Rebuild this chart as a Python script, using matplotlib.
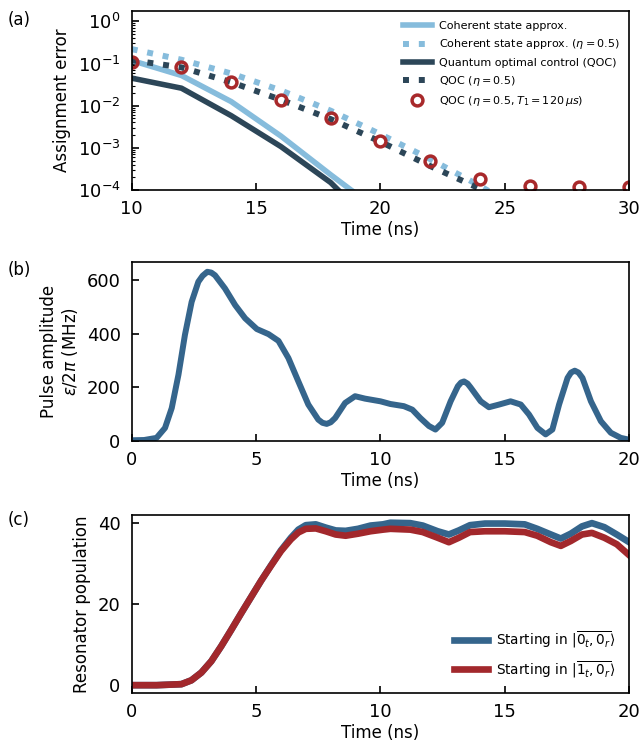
import matplotlib
matplotlib.use('Agg')
import matplotlib.pyplot as plt

# ---------------- Panel (a) data ----------------
t_a = [10, 12, 14, 16, 18, 20, 22, 24, 26, 28, 30]
t_coh = [10, 12, 14, 16, 18, 20]
err_coh = [0.118, 0.052, 0.0125, 1.9e-3, 2.3e-4, 3.0e-5]
t_coh_eta = [10, 12, 14, 16, 18, 20, 22, 24, 26]
err_coh_eta = [0.22, 0.123, 0.058, 0.023, 7.6e-3, 2.1e-3, 5.4e-4, 1.25e-4, 2.5e-5]
t_qoc = [10, 12, 14, 16, 18, 20]
err_qoc = [0.045, 0.026, 5.8e-3, 1.07e-3, 1.5e-4, 1.0e-5]
t_qoc_eta = [10, 12, 14, 16, 18, 20, 22, 24, 26]
err_qoc_eta = [0.12, 0.081, 0.036, 0.0138, 4.8e-3, 1.4e-3, 3.7e-4, 1.07e-4, 1.0e-5]
err_qoc_t1 = [0.11, 0.082, 0.037, 0.0139, 5.1e-3, 1.47e-3, 4.9e-4, 1.86e-4, 1.25e-4, 1.15e-4, 1.18e-4]

labels_a = ['Coherent state approx.',
            r'Coherent state approx. ($\eta = 0.5$)',
            'Quantum optimal control (QOC)',
            r'QOC ($\eta = 0.5$)',
            r'QOC ($\eta = 0.5, T_1 = 120\,\mu s$)']

# ---------------- Panel (b) data ----------------
t_b = [0, 0.5, 1.0, 1.34, 1.61, 1.88, 2.14, 2.41, 2.68, 2.85, 3.04, 3.2, 3.35, 3.75,
       4.16, 4.56, 5.03, 5.5, 5.9, 6.3, 6.7, 7.1, 7.5, 7.67, 7.84, 8.0, 8.18, 8.58,
       8.98, 9.38, 10.0, 10.4, 10.94, 11.28, 11.6, 11.95, 12.21, 12.48, 12.82, 13.11,
       13.24, 13.36, 13.5, 13.62, 14.03, 14.36, 14.77, 15.23, 15.64, 15.97, 16.31,
       16.64, 16.91, 17.18, 17.52, 17.66, 17.81, 17.96, 18.12, 18.46, 18.86, 19.26,
       19.66, 20.0]
amp_b = [3, 4, 12, 49, 123, 247, 395, 518, 593, 615, 630, 627, 617, 568,
         506, 457, 417, 398, 373, 309, 222, 136, 80, 68, 64, 70, 86, 142,
         167, 158, 148, 138, 130, 117, 86, 56, 43, 68, 148, 204,
         218, 222, 214, 200, 148, 126, 136, 148, 136, 99, 49,
         25, 43, 136, 235, 255, 262, 255, 235, 148, 74, 31,
         12, 5]

# ---------------- Panel (c) data ----------------
t_c = [0, 1, 2.0, 2.4, 2.8, 3.2, 3.6, 4.0, 4.4, 4.8, 5.2, 5.6, 6.0, 6.4, 6.7, 7.0,
       7.4, 7.8, 8.2, 8.6, 9.1, 9.6, 10.1, 10.4, 11.2, 11.7, 12.3, 12.75, 13.15,
       13.6, 14.2, 15.0, 15.8, 16.3, 16.85, 17.25, 17.65, 18.1, 18.5, 19.0, 19.5, 20.0]
pop_0 = [0, 0, 0.25, 1.2, 3.1, 5.9, 9.6, 13.6, 17.7, 21.7, 25.7, 29.5, 33.2, 36.3,
         38.3, 39.4, 39.6, 38.8, 38.1, 38.0, 38.5, 39.3, 39.6, 40.0, 39.9, 39.3, 37.9,
         37.1, 38.1, 39.4, 39.8, 39.8, 39.6, 38.5, 37.1, 36.1, 37.3, 39.1, 39.9, 38.9,
         37.1, 35.2]
pop_1 = [0, 0, 0.25, 1.2, 3.1, 5.9, 9.6, 13.6, 17.7, 21.7, 25.7, 29.4, 33.0, 35.9,
         37.6, 38.5, 38.6, 37.9, 37.1, 36.8, 37.3, 37.9, 38.3, 38.5, 38.3, 37.7, 36.3,
         35.2, 36.3, 37.7, 37.9, 37.9, 37.7, 36.8, 35.2, 34.3, 35.5, 37.1, 37.5, 36.3,
         34.7, 32.0]
labels_c = [r'Starting in $|\overline{0_t, 0_r}\rangle$',
            r'Starting in $|\overline{1_t, 0_r}\rangle$']

# ---------------- Style ----------------
plt.rcParams.update({
    'font.family': ['DejaVu Sans'],
    'font.size': 12,
    'mathtext.fontset': 'dejavusans',
    'axes.linewidth': 1.2,
    'axes.labelpad': 5,
    'xtick.labelsize': 13, 'ytick.labelsize': 13,
    'xtick.direction': 'in', 'ytick.direction': 'in',
    'xtick.major.size': 5, 'ytick.major.size': 5,
    'xtick.minor.size': 2.5, 'ytick.minor.size': 2.5,
    'xtick.major.width': 1.2, 'ytick.major.width': 1.2,
    'xtick.minor.width': 0.8, 'ytick.minor.width': 0.8,
    'xtick.major.pad': 7, 'ytick.major.pad': 8,
    'xtick.minor.pad': 7, 'ytick.minor.pad': 8,
})

c_light = '#86bcdc'
c_dark = '#2c4658'
c_red = '#a8292b'
c_blue = '#35658c'
c_red2 = '#a2282c'

fig = plt.figure(figsize=(6.43, 7.54), dpi=100)
L, W, H = 0.2048, 0.7738, 0.2370
ax1 = fig.add_axes([L, 0.7480, W, H])
ax2 = fig.add_axes([L, 0.4150, W, H])
ax3 = fig.add_axes([L, 0.0805, W, H])

# Panel (a)
ax1.plot(t_coh, err_coh, color=c_light, lw=4, label=labels_a[0])
ax1.plot(t_coh_eta, err_coh_eta, color=c_light, lw=4.3, ls=':', label=labels_a[1])
ax1.plot(t_qoc, err_qoc, color=c_dark, lw=4, label=labels_a[2])
ax1.plot(t_qoc_eta, err_qoc_eta, color=c_dark, lw=4.3, ls=':', label=labels_a[3])
ax1.plot(t_a, err_qoc_t1, ls='none', marker='o', ms=7.8, mfc='none', mec=c_red,
         mew=2.5, label=labels_a[4])
ax1.set_yscale('log')
ax1.set_ylim(1e-4, 1.73)
ax1.set_xlim(10, 30)
ax1.set_xticks([10, 15, 20, 25, 30])
ax1.set_xlabel('Time (ns)', labelpad=2)
ax1.set_ylabel('Assignment error')
ax1.legend(loc='upper right', frameon=False, fontsize=8, handlelength=2.6,
           handletextpad=0.6, labelspacing=0.55)

# Panel (b)
ax2.plot(t_b, amp_b, color=c_blue, lw=4.3, solid_capstyle='round')
ax2.set_xlim(0, 20)
ax2.set_ylim(0, 665)
ax2.set_xticks([0, 5, 10, 15, 20])
ax2.set_yticks([0, 200, 400, 600])
ax2.set_xlabel('Time (ns)', labelpad=2)
ax2.set_ylabel('Pulse amplitude\n' + r'$\varepsilon/2\pi$ (MHz)', linespacing=1.1)

# Panel (c)
ax3.plot(t_c, pop_0, color=c_blue, lw=4.8, label=labels_c[0])
ax3.plot(t_c, pop_1, color=c_red2, lw=4.8, label=labels_c[1])
ax3.set_xlim(0, 20)
ax3.set_xticks([0, 5, 10, 15, 20])
ax3.set_yticks([0, 20, 40])
ax3.set_xlabel('Time (ns)', labelpad=2)
ax3.set_ylabel('Resonator population')
ax3.legend(loc='lower right', frameon=False, fontsize=9.8, handlelength=2.5,
           handletextpad=0.6, labelspacing=0.65, borderaxespad=0.6)

fig.text(0.012, 0.973, '(a)', fontsize=12, va='center')
fig.text(0.012, 0.642, '(b)', fontsize=12, va='center')
fig.text(0.012, 0.310, '(c)', fontsize=12, va='center')

fig.savefig('out.png', dpi=100)
